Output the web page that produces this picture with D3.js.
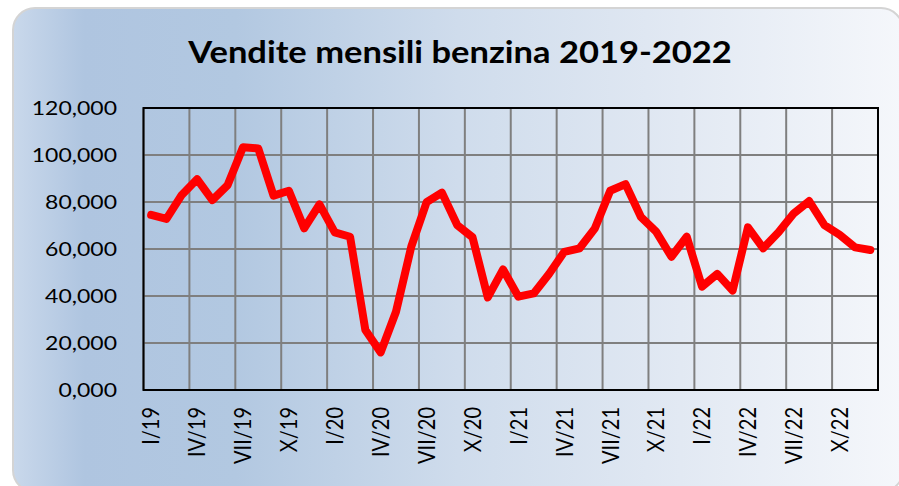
<!DOCTYPE html>
<html>
<head>
<meta charset="utf-8">
<script src="https://cdn.jsdelivr.net/npm/d3@7"></script>
<style>
  body { margin: 0; background: #fff; }
  svg text { font-family: Lato, "Open Sans", sans-serif; fill: #000; }
</style>
</head>
<body>
<div id="chart"></div>
<script>
// monthly petrol sales, Jan 2019 - Dec 2022
var years = ['19', '20', '21', '22'];
var romans = ['I', 'II', 'III', 'IV', 'V', 'VI', 'VII', 'VIII', 'IX', 'X', 'XI', 'XII'];
var months = [];
years.forEach(function (y) {
    romans.forEach(function (r) { months.push(r + '/' + y) })
});

var sales2019 = [74500, 72800, 83000, 89700, 80800, 87200, 103300, 102800, 82700, 84800, 68800, 79000];
var sales2020 = [67100, 65200, 25500, 16000, 33300, 61000, 79900, 84000, 70200, 65000, 39400, 51300];
var sales2021 = [39700, 41100, 49400, 58800, 60300, 68800, 84800, 87600, 73700, 67400, 56700, 65200];
var sales2022 = [44000, 49400, 42300, 69200, 60300, 67100, 75200, 80400, 70200, 66000, 60700, 59600];
var sales = sales2019.concat(sales2020, sales2021, sales2022);

var yTicks = [0, 20000, 40000, 60000, 80000, 100000, 120000];
var title = 'Vendite mensili benzina 2019-2022';

var width = 899, height = 486;
var margin = { left: 143.5, right: 21, top: 108, bottom: 96 };
var stretch = 1.15; // text in the original is a bit wider than tall

var svg = d3.select('#chart').append('svg')
    .attr('width', width)
    .attr('height', height);

var grad = svg.append('defs').append('linearGradient')
    .attr('id', 'bg')
    .attr('x1', '0%').attr('x2', '100%').attr('y1', '0%').attr('y2', '0%');
[['0%', '#c9d8eb'], ['8%', '#afc5e0'], ['25%', '#b2c8e1'], ['50%', '#cfdcec'],
 ['75%', '#e2e9f3'], ['100%', '#f5f7fb']].forEach(function (s) {
    grad.append('stop').attr('offset', s[0]).attr('stop-color', s[1]);
});

svg.append('rect')
    .attr('x', 13).attr('y', 8)
    .attr('width', 890).attr('height', 484)
    .attr('rx', 22)
    .attr('fill', 'url(#bg)')
    .attr('stroke', '#d4d4d4')
    .attr('stroke-width', 2);

svg.append('text')
    .attr('transform', 'translate(460,63) scale(' + stretch + ',1)')
    .attr('text-anchor', 'middle')
    .style('font-size', '30px')
    .style('font-weight', 'bold')
    .text(title);

var x = d3.scaleBand()
    .domain(months)
    .range([margin.left, width - margin.right]);

var y = d3.scaleLinear()
    .domain([0, 120000])
    .range([height - margin.bottom, margin.top]);

var plot = svg.append('g');

// horizontal grid
plot.selectAll('.hgrid')
    .data(yTicks)
    .enter().append('line')
    .attr('x1', margin.left).attr('x2', width - margin.right)
    .attr('y1', function (d) { return y(d) })
    .attr('y2', function (d) { return y(d) })
    .attr('stroke', '#7f7f7f')
    .attr('stroke-width', 2);

// vertical grid every 3 months
var quarterMonths = months.filter(function (d, i) { return i % 3 === 0 });
plot.selectAll('.vgrid')
    .data(quarterMonths)
    .enter().append('line')
    .attr('x1', function (d) { return x(d) })
    .attr('x2', function (d) { return x(d) })
    .attr('y1', margin.top).attr('y2', height - margin.bottom)
    .attr('stroke', '#7f7f7f')
    .attr('stroke-width', 2);

plot.append('rect')
    .attr('x', margin.left).attr('y', margin.top)
    .attr('width', width - margin.right - margin.left)
    .attr('height', height - margin.bottom - margin.top)
    .attr('fill', 'none')
    .attr('stroke', '#000')
    .attr('stroke-width', 2);

// y labels
var fmt = function (d) { return d === 0 ? '0,000' : d3.format(',')(d) };
svg.append('g').selectAll('text')
    .data(yTicks)
    .enter().append('text')
    .attr('transform', function (d) {
        return 'translate(117,' + y(d) + ') scale(' + stretch + ',1)';
    })
    .attr('dy', '0.36em')
    .attr('text-anchor', 'end')
    .style('font-size', '20px')
    .text(fmt);

// x labels, rotated
svg.append('g').selectAll('text')
    .data(quarterMonths)
    .enter().append('text')
    .attr('transform', function (d) {
        return 'translate(' + (x(d) + x.bandwidth() / 2) + ',' + 407 + ') scale(' + stretch + ',1) rotate(-90)';
    })
    .attr('dy', '0.36em')
    .attr('text-anchor', 'end')
    .style('font-size', '20px')
    .text(function (d) { return d });

var line = d3.line()
    .x(function (d, i) { return x(months[i]) + x.bandwidth() / 2 })
    .y(function (d) { return y(d) });

plot.append('path')
    .datum(sales)
    .attr('d', line)
    .attr('fill', 'none')
    .attr('stroke', '#ff0000')
    .attr('stroke-width', 8)
    .attr('stroke-linejoin', 'round')
    .attr('stroke-linecap', 'round');
</script>
</body>
</html>
